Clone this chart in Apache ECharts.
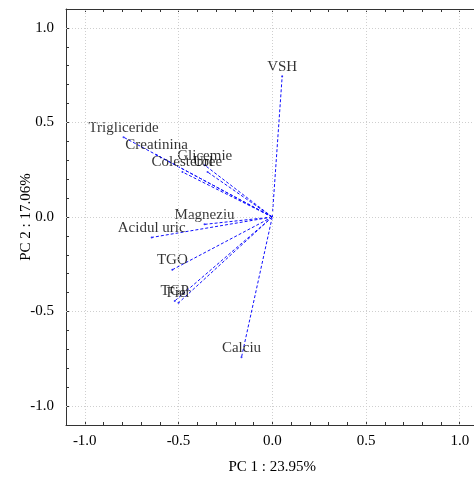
<!DOCTYPE html>
<html>
<head>
<meta charset="utf-8">
<script src="https://cdn.jsdelivr.net/npm/echarts@6/dist/echarts.min.js"></script>
<style>html,body{margin:0;padding:0;background:#fff}#c{width:474px;height:480px}</style>
</head>
<body>
<div id="c"></div>
<script>
var names = ['VSH','Trigliceride','Creatinina','Glicemie','Colesterol','Uree','Magneziu','Acidul uric','TGO','TGP','Fier','Calciu'];
var pc1 = [0.053,-0.793,-0.617,-0.360,-0.479,-0.345,-0.361,-0.643,-0.533,-0.520,-0.500,-0.164];
var pc2 = [0.745,0.422,0.328,0.274,0.238,0.238,-0.039,-0.108,-0.279,-0.444,-0.454,-0.742];
var tickLabels = [-1.0,-0.5,0.0,0.5,1.0];
var xName = 'PC 1 : 23.95%';
var yName = 'PC 2 : 17.06%';

var FONT = 'Liberation Serif';
var chart = echarts.init(document.getElementById('c'), null, {renderer:'canvas'});

function isMajor(v){ return tickLabels.some(function(t){return Math.abs(t - v) < 1e-6;}); }
function fmt(v){ return isMajor(v) ? Number(v).toFixed(1) : ''; }

function axisCommon(show){
  return {
    type:'value', min:-1.1, max:1.1, interval:0.1,
    axisLine:{show:true, onZero:false, lineStyle:{color:'#333', width:1}},
    axisTick:{show:true, inside:true, length:3, lineStyle:{color:'#333'}},
    axisLabel:{show:show, formatter:fmt, color:'#000', fontFamily:FONT, fontSize:15, showMinLabel:true, showMaxLabel:true},
    splitLine:{show:false}
  };
}
var xb = axisCommon(true); xb.position='bottom'; xb.name=xName; xb.nameLocation='middle'; xb.nameGap=35;
xb.nameMoveOverlap=false;
xb.nameTextStyle={color:'#000', fontFamily:FONT, fontSize:15}; xb.axisLabel.margin=9;
var xt = axisCommon(false); xt.position='top';
var yl = axisCommon(true); yl.position='left'; yl.name=yName; yl.nameLocation='middle'; yl.nameGap=32;
yl.nameMoveOverlap=false;
yl.nameTextStyle={color:'#000', fontFamily:FONT, fontSize:15}; yl.axisLabel.margin=12;
var yr = axisCommon(false); yr.position='right';

var series = [];
var gridData = [];
tickLabels.forEach(function(t){ gridData.push({xAxis:t}); gridData.push({yAxis:t}); });
series.push({
  type:'line', data:[], xAxisIndex:0, yAxisIndex:0, silent:true,
  markLine:{symbol:'none', silent:true, label:{show:false},
    lineStyle:{color:'#cfcfcf', type:[1,2], width:1}, data:gridData}
});
names.forEach(function(n,i){
  series.push({
    type:'line', name:n, xAxisIndex:0, yAxisIndex:0,
    data:[[0,0],[pc1[i],pc2[i]]],
    showSymbol:false, symbol:'none', silent:true, animation:false,
    lineStyle:{color:'#1010ff', width:1, type:[3,2]}, z:3
  });
});
series.push({
  type:'scatter', xAxisIndex:0, yAxisIndex:0,
  data:names.map(function(n,i){return {name:n, value:[pc1[i],pc2[i]]};}),
  symbolSize:2, itemStyle:{color:'#1010ff'}, z:4,
  label:{show:true, position:'top', distance:1, formatter:'{b}', color:'#000', fontFamily:FONT, fontSize:15}
});

chart.setOption({
  animation:false,
  backgroundColor:'#fff',
  grid:{left:66, top:9, width:412.5, height:416, containLabel:false, outerBoundsMode:'none'},
  xAxis:[xb, xt],
  yAxis:[yl, yr],
  series:series
});
</script>
</body>
</html>
